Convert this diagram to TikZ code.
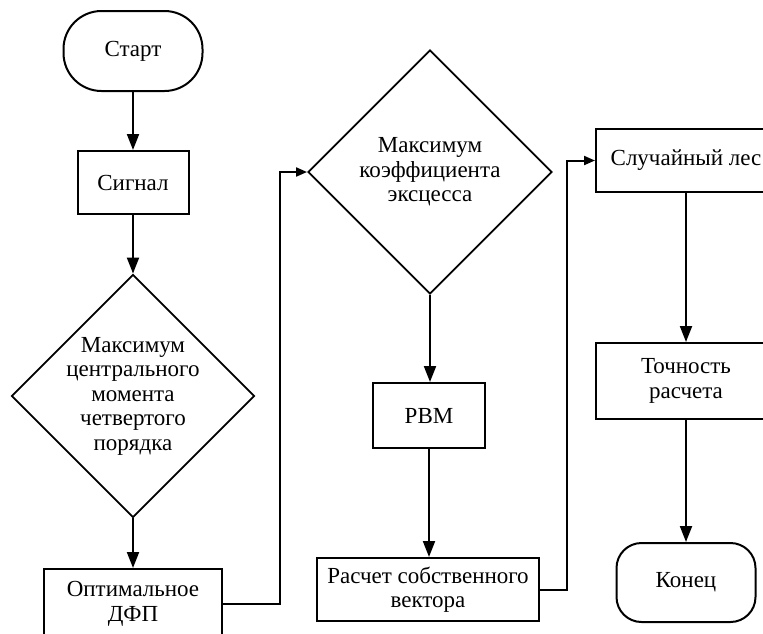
\documentclass[tikz,border=0pt]{standalone}
\usepackage{fontspec}
\setmainfont{Liberation Serif}
\usetikzlibrary{shapes.geometric,arrows.meta}

\begin{document}
\begin{tikzpicture}[x=1pt,y=-1pt,
  font=\fontsize{23}{24.5}\selectfont,
  box/.style={draw,line width=2pt,rectangle,align=center,inner sep=0pt},
  term/.style={box,rounded corners=#1},
  term/.default=30pt,
  decision/.style={draw,line width=1.9pt,diamond,align=center,inner sep=-10pt},
  arr/.style={line width=2pt,-{Triangle[length=16pt,width=12pt]}},
  harr/.style={line width=2pt,-{Triangle[length=11pt,width=9pt]}}]

\useasboundingbox (0,0) rectangle (763,633);
\clip (0,0) rectangle (763,633);

% first column
\node[term=38pt, minimum width=139pt, minimum height=80pt] (start) at (133,51) {Старт};
\node[box, minimum width=111pt, minimum height=63pt] (signal) at (133,182.5) {Сигнал};
\node[decision, minimum width=243pt, minimum height=243pt] (moment) at (133,396)
  {Максимум\\центрального\\момента\\четвертого\\порядка};
\node[box, minimum width=178pt, minimum height=70pt] (dfp) at (133,604) {Оптимальное\\ДФП};

% second column
\node[decision, minimum width=244pt, minimum height=244pt] (kurt) at (430,172)
  {Максимум\\коэффициента\\эксцесса};
\node[box, minimum width=112pt, minimum height=65pt] (pbm) at (429,415.5) {РВМ};
\node[box, minimum width=222pt, minimum height=63pt] (eigen) at (428,589.5) {Расчет собственного\\вектора};

% third column
\node[box, minimum width=180pt, minimum height=63pt] (forest) at (686,160.5) {Случайный лес};
\node[box, minimum width=180pt, minimum height=76pt] (acc) at (686,381) {Точность\\расчета};
\node[term=25pt, minimum width=139pt, minimum height=79pt] (stop) at (686,582.5) {Конец};

\draw[arr] (start) -- (signal);
\draw[arr] (signal) -- (moment);
\draw[arr] (moment) -- (dfp);
\draw[harr] (dfp.east) -- ++(57,0) |- (kurt.west);

\draw[arr] (kurt.south) -- (kurt.south |- pbm.north);
\draw[arr] (pbm.south) -- (pbm.south |- eigen.north);
\draw[harr] (eigen.east) -- ++(27,0) |- (forest.west);

\draw[arr] (forest) -- (acc);
\draw[arr] (acc) -- (stop);

\end{tikzpicture}
\end{document}
